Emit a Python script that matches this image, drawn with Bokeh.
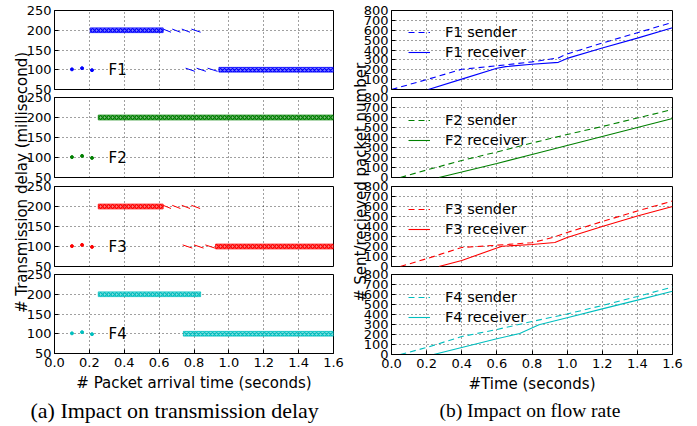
import math
from bokeh.plotting import figure
from bokeh.layouts import row, column
from bokeh.models import (FixedTicker, PrintfTickFormatter, Title, Legend,
                          LegendItem, Range1d)
from bokeh.core.properties import value
from bokeh.embed import file_html
from bokeh.resources import INLINE

flows = ["F1", "F2", "F3", "F4"]
colors = ["#0000ff", "#008000", "#ff0000", "#00bfbf"]

x_ticks = [0.0, 0.2, 0.4, 0.6, 0.8, 1.0, 1.2, 1.4, 1.6]
delay_ticks = [50, 100, 150, 200, 250]
count_ticks = [0, 100, 200, 300, 400, 500, 600, 700, 800]

# ---- (a) transmission delay ----
dot_t = [0.100, 0.158, 0.215]
dot_delay = [101, 104, 99]

band_start = {"F1": [0.205, 0.943], "F2": [0.251], "F3": [0.251, 0.924], "F4": [0.251, 0.739]}
band_end = {"F1": [0.623, 1.6], "F2": [1.6], "F3": [0.623, 1.6], "F4": [0.838, 1.6]}
band_level = {"F1": [200, 100], "F2": [200], "F3": [200, 100], "F4": [200, 100]}

saw_t0 = {"F1": [0.623, 0.675, 0.730, 0.785, 0.752, 0.815, 0.878], "F2": [],
          "F3": [0.623, 0.675, 0.730, 0.785, 0.735, 0.800, 0.865], "F4": []}
saw_t1 = {"F1": [0.668, 0.722, 0.777, 0.838, 0.805, 0.868, 0.935], "F2": [],
          "F3": [0.668, 0.722, 0.777, 0.835, 0.790, 0.855, 0.920], "F4": []}
saw_d0 = {"F1": [203, 203, 203, 203, 104, 104, 104], "F2": [],
          "F3": [203, 203, 203, 203, 104, 104, 104], "F4": []}
saw_d1 = {"F1": [195, 195, 195, 195, 96, 96, 96], "F2": [],
          "F3": [195, 195, 195, 195, 96, 96, 96], "F4": []}

# ---- (b) flow rate ----
send_t = {"F1": [0, 0.2, 0.4, 0.6, 0.8, 0.95, 1.0, 1.2, 1.4, 1.6],
          "F2": [0.05, 0.2, 0.4, 0.6, 0.8, 1.0, 1.2, 1.4, 1.6],
          "F3": [0.05, 0.2, 0.4, 0.6, 0.8, 0.92, 1.0, 1.2, 1.4, 1.6],
          "F4": [0.05, 0.2, 0.4, 0.6, 0.8, 1.0, 1.2, 1.4, 1.6]}
send_n = {"F1": [0, 100, 205, 240, 280, 320, 360, 470, 575, 680],
          "F2": [0, 75, 170, 255, 345, 430, 510, 595, 680],
          "F3": [0, 78, 190, 213, 238, 292, 340, 450, 555, 655],
          "F4": [0, 70, 180, 250, 330, 405, 490, 580, 675]}
recv_t = {"F1": [0.21, 0.4, 0.6, 0.65, 0.8, 0.95, 1.0, 1.2, 1.4, 1.6],
          "F2": [0.27, 0.4, 0.6, 0.8, 1.0, 1.2, 1.4, 1.6],
          "F3": [0.27, 0.4, 0.6, 0.63, 0.8, 0.93, 1.0, 1.2, 1.4, 1.6],
          "F4": [0.24, 0.4, 0.6, 0.73, 0.84, 1.0, 1.2, 1.4, 1.6]}
recv_n = {"F1": [0, 105, 215, 232, 255, 275, 315, 420, 520, 625],
          "F2": [0, 55, 140, 230, 320, 410, 500, 590],
          "F3": [0, 60, 185, 203, 220, 240, 290, 400, 505, 600],
          "F4": [0, 70, 158, 210, 298, 368, 456, 544, 632]}

FONT = "DejaVu Sans"
FRAME_H = [79, 80, 80, 80]
TOPS = [10, 10, 10, 10]
BOTTOMS = [10, 10, 10, 70]
OVERLAP = [0, -12, -11, -12]


def base_panel(i, width, mbl, mbr, y0, y1, yticks):
    p = figure(width=width, height=TOPS[i] + FRAME_H[i] + BOTTOMS[i],
               x_range=Range1d(0, 1.6), y_range=Range1d(y0, y1),
               output_backend="svg", toolbar_location=None,
               min_border_left=mbl, min_border_right=mbr,
               min_border_top=TOPS[i], min_border_bottom=BOTTOMS[i],
               margin=(OVERLAP[i], 0, 0, 0))
    p.border_fill_alpha = 0
    p.background_fill_color = "white"
    p.outline_line_color = "black"
    p.outline_line_alpha = 1
    p.outline_line_width = 1
    p.xaxis.ticker = FixedTicker(ticks=x_ticks)
    p.yaxis.ticker = FixedTicker(ticks=yticks)
    p.xaxis.formatter = PrintfTickFormatter(format="%.1f")
    for ax in (p.xaxis[0], p.yaxis[0]):
        ax.major_tick_in = 4
        ax.major_tick_out = 0
        ax.minor_tick_line_color = None
        ax.axis_line_color = "black"
        ax.major_tick_line_color = "black"
        ax.major_label_text_font = FONT
        ax.major_label_text_font_size = "13px"
        ax.major_label_text_color = "black"
        ax.major_label_standoff = 3
        ax.axis_label_text_font = FONT
        ax.axis_label_text_font_size = "15px"
        ax.axis_label_text_font_style = "normal"
        ax.axis_label_text_color = "black"
    p.xaxis.major_label_standoff = 4
    if i < 3:
        p.xaxis.visible = False
    for g in (p.xgrid[0], p.ygrid[0]):
        g.grid_line_color = "black"
        g.grid_line_dash = "1 3"
        g.grid_line_width = 1
        g.grid_line_alpha = 0.75
    return p


left_panels = []
right_panels = []
for i, (f, c) in enumerate(zip(flows, colors)):
    # (a)
    p = base_panel(i, 349, 54, 16, 50, 250, delay_ticks)
    p.scatter(dot_t, dot_delay, size=3, color=c)
    p.quad(left=band_start[f], right=band_end[f],
           bottom=[v - 6 for v in band_level[f]], top=[v + 6 for v in band_level[f]],
           fill_color=c, fill_alpha=0.5, line_color=c, line_width=0.8,
           hatch_pattern="diagonal_cross", hatch_color=c, hatch_scale=4,
           hatch_weight=1.2)
    if saw_t0[f]:
        p.segment(x0=saw_t0[f], y0=saw_d0[f], x1=saw_t1[f], y1=saw_d1[f],
                  line_color=c, line_width=1)
    p.text(x=[0.31], y=[100], text=[f], text_font=value(FONT),
           text_font_size="15px", text_baseline="middle", text_align="left",
           text_color="black")
    if i == 3:
        p.xaxis.axis_label = "# Packet arrival time (seconds)"
        p.xaxis.axis_label_standoff = 4
        p.add_layout(Title(text="(a) Impact on transmission delay", align="left",
                           offset=-24, text_font="Liberation Serif",
                           text_font_size="22px", text_font_style="normal",
                           text_color="black", standoff=3), "below")
    left_panels.append(p)

    # (b)
    q = base_panel(i, 340, 42, 17, 0, 800, count_ticks)
    r1 = q.line(send_t[f], send_n[f], line_color=c, line_width=1.1, line_dash="6 4")
    r2 = q.line(recv_t[f], recv_n[f], line_color=c, line_width=1.1)
    leg = Legend(items=[LegendItem(label=f + " sender", renderers=[r1]),
                        LegendItem(label=f + " receiver", renderers=[r2])],
                 location=(17, 28), border_line_color=None,
                 background_fill_alpha=0, padding=0, margin=0, spacing=2,
                 glyph_width=22, glyph_height=18, label_height=18,
                 label_standoff=15, label_text_font=FONT,
                 label_text_font_size="14.5px", label_text_color="black")
    q.add_layout(leg)
    if i == 3:
        q.xaxis.axis_label = "#Time (seconds)"
        q.xaxis.axis_label_standoff = 4
        q.add_layout(Title(text="(b) Impact on flow rate", align="left",
                           offset=48, text_font="Liberation Serif",
                           text_font_size="19.5px", text_font_style="normal",
                           text_color="black", standoff=4), "below")
    right_panels.append(q)


def label_fig(text, w, h, mr):
    p = figure(width=w, height=h, x_range=Range1d(-1, 1), y_range=Range1d(-1, 1),
               output_backend="svg", toolbar_location=None, min_border=0,
               margin=(0, mr, 0, 0))
    p.axis.visible = False
    p.grid.visible = False
    p.outline_line_color = None
    p.background_fill_alpha = 0
    p.border_fill_alpha = 0
    p.text(x=[0], y=[0], text=[text], angle=math.pi / 2, text_align="center",
           text_baseline="middle", text_font=value(FONT), text_font_size="15px",
           text_color="black")
    return p


lab_l = label_fig("# Transmission delay (millisecond)", 42, 364, -42)
lab_r = label_fig("# Sent/recieved packet number", 22, 364, -22)

layout = row(lab_l, column(*left_panels), lab_r, column(*right_panels))

open("out.html", "w").write(file_html(layout, INLINE))
